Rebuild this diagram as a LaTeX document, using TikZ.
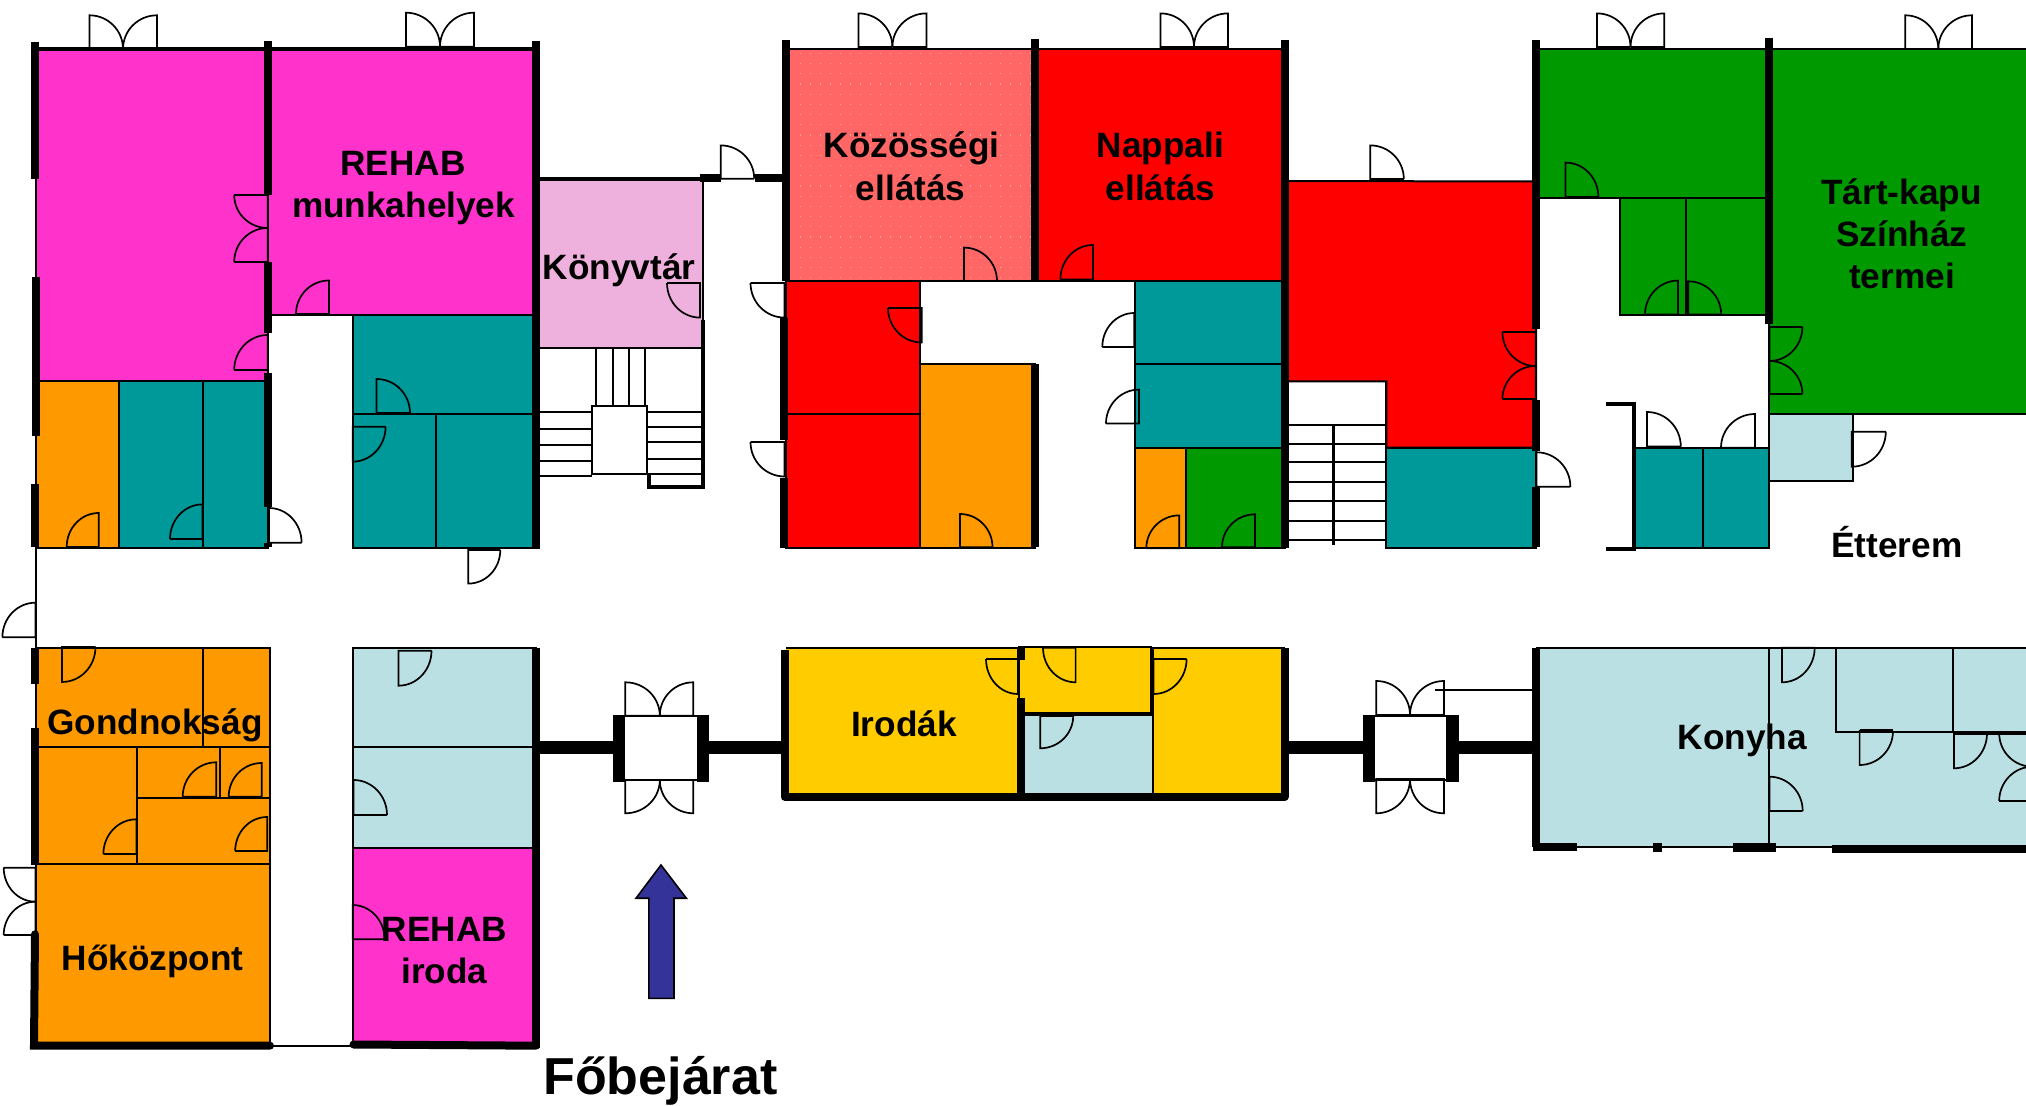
\documentclass[tikz,border=0pt]{standalone}
\usepackage{fontspec}
\setmainfont{Liberation Sans}
\definecolor{cmag}{HTML}{FF33CC}
\definecolor{cteal}{HTML}{009999}
\definecolor{corange}{HTML}{FF9900}
\definecolor{cred}{HTML}{FF0000}
\definecolor{cgreen}{HTML}{009900}
\definecolor{cblue}{HTML}{BBE0E3}
\definecolor{cyellow}{HTML}{FFCC00}
\definecolor{cpink}{HTML}{EEB0DC}
\definecolor{csalmon}{HTML}{FF6666}
\definecolor{cdot}{HTML}{FFA4A4}
\definecolor{carrow}{HTML}{333399}
\tikzset{
  roomline/.style={draw=black,line width=1pt},
  thinline/.style={draw=black,line width=1pt},
  doorline/.style={draw=black,line width=.85pt,line join=miter},
  wallline/.style={draw=black,line width=4pt},
  heavyline/.style={draw=black,line width=6.5pt},
  label/.style={font=\bfseries\fontsize{17.6pt}{20pt}\selectfont,anchor=base,inner sep=0pt,outer sep=0pt},
}
\newcommand\roombox[5]{\fill[#1] (#2,#3) rectangle (#4,#5); \draw[roomline] (#2,#3) rectangle (#4,#5);}
\newcommand\vwall[3]{\draw[wallline] (#1,#2) -- (#1,#3);}
\newcommand\hwall[3]{\draw[wallline] (#2,#1) -- (#3,#1);}
\newcommand\door[4]{\draw[doorline,shift={(#1,#2)}] (#3,0) -- (0,0) -- (0,#4) .. controls (0.5523*#3,#4) and (#3,0.5523*#4) .. (#3,0);}
\begin{document}
\begin{tikzpicture}[x=.5pt,y=-.5pt]
\useasboundingbox (0,0) rectangle (2026,1106);
\clip (0,0) rectangle (2026,1106);
% ---- rooms, north-west block
\roombox{cmag}{36}{49}{268}{381.5}
\roombox{cmag}{268}{49}{536}{315}
\roombox{corange}{36}{381.5}{119}{548}
\roombox{cteal}{119}{381.5}{203}{548}
\roombox{cteal}{203}{381.5}{268}{548}
\roombox{cteal}{352.6}{315}{536}{414.5}
\roombox{cteal}{352.6}{414.5}{436}{548}
\roombox{cteal}{436}{414.5}{536}{548}
\roombox{cpink}{536}{180}{702.5}{348}
% stairs by the library
\draw[thinline] (596,348) -- (596,406) (613,348) -- (613,406) (629,348) -- (629,406) (645,348) -- (645,406);
\draw[thinline] (592,406) rectangle (647,474.5);
\draw[thinline] (536,412.5) -- (592,412.5) (536,428.6) -- (592,428.6) (536,445) -- (592,445) (536,461) -- (592,461) (536,476) -- (592,476);
\draw[thinline] (647,412.5) -- (703,412.5) (647,427.5) -- (703,427.5) (647,442) -- (703,442) (647,459) -- (703,459) (647,474.5) -- (703,474.5);
\draw[draw=black,line width=1.6pt] (703,320) -- (703,487) -- (649,487) -- (649,475);
% ---- north-middle block
\roombox{csalmon}{786}{49}{1035}{281}
\foreach \i in {0,...,23}{\foreach \j in {0,...,22}{\fill[cdot] (800.2+10*\i,52.8+10.2*\j) rectangle +(1.2,1.2);}}
\roombox{cred}{1035}{49}{1284.5}{281}
\roombox{cred}{786}{281}{919.5}{414.5}
\roombox{cred}{786}{414.5}{919.5}{548}
\roombox{corange}{919.5}{364.5}{1035}{548}
\roombox{cteal}{1135}{281}{1284.5}{364.3}
\roombox{cteal}{1135}{364.3}{1284.5}{447.7}
\roombox{corange}{1135}{447.7}{1185.8}{548}
\roombox{cgreen}{1185.8}{447.7}{1284.5}{548}
\fill[cred] (1284.5,181) -- (1536,181.5) -- (1536,447.7) -- (1386.4,447.7) -- (1386.4,381.5) -- (1284.5,381.5) -- cycle;
\draw[roomline] (1284.5,181) -- (1536,181.5) -- (1536,447.7) -- (1386.4,447.7) -- (1386.4,381.5) -- (1284.5,381.5) -- cycle;
\foreach \yy in {424.8,444,462,482,501,521,540.4}{\draw[thinline] (1284.5,\yy) -- (1386.4,\yy);}
\draw[draw=black,line width=1.5pt] (1333.6,424.8) -- (1333.6,545);
\draw[thinline] (1386.4,381.5) -- (1386.4,548);
\roombox{cteal}{1386.4}{447.7}{1536}{548.4}
% ---- north-east block
\roombox{cgreen}{1536}{48.6}{1769.4}{198.2}
\roombox{cgreen}{1619.8}{198.2}{1686}{315}
\roombox{cgreen}{1686}{198.2}{1769.4}{315}
\fill[cgreen] (1769.4,48.6) rectangle (2030,414.5);
\draw[roomline] (2030,48.6) -- (1769.4,48.6) -- (1769.4,414.5) -- (2030,414.5);
\roombox{cblue}{1769.4}{414.5}{1853}{481.4}
\roombox{cteal}{1634.6}{447.7}{1702.6}{548.4}
\roombox{cteal}{1702.6}{447.7}{1769.4}{548.4}
\draw[draw=black,line width=2pt] (1605.8,404.5) -- (1633.8,404.5) -- (1633.8,549) -- (1605.8,549);
\draw[draw=black,line width=1.5pt] (1687,281) -- (1687,315);
% ---- south-west block
\roombox{corange}{36}{647.7}{203}{747}
\roombox{corange}{203}{647.7}{270}{747}
\roombox{corange}{36}{747}{136.8}{864.3}
\roombox{corange}{136.8}{747}{219.5}{797.7}
\roombox{corange}{219.5}{747}{270}{797.7}
\roombox{corange}{136.8}{797.7}{270}{864.3}
\roombox{corange}{36}{864.3}{270}{1045.7}
\roombox{cblue}{352.6}{647.7}{536}{747}
\roombox{cblue}{352.6}{747}{536}{847.7}
\roombox{cmag}{352.6}{847.7}{536}{1045}
\draw[draw=black,line width=1.2pt] (270,1045.7) -- (353,1045.7);
% ---- offices
\fill[cyellow] (786,647.7) rectangle (1284.5,796);
\draw[roomline] (786,647.7) -- (1284.5,647.7);
\fill[cblue] (1020.5,714) rectangle (1152.7,796);
\draw[thinline] (1152.7,647.7) -- (1152.7,796);
\roombox{cyellow}{1019}{646.7}{1151}{713.3}
\draw[draw=black,line width=1.8pt] (1020,714) -- (1153,714);
\vwall{1020.5}{647}{660}
\vwall{1020.5}{698}{797}
% ---- kitchen
\fill[cblue] (1536,647.7) rectangle (2030,847.3);
\draw[roomline] (2030,647.7) -- (1536,647.7);
\draw[thinline] (1536,847.3) -- (2030,847.3);
\draw[thinline] (1769.4,647.7) -- (1769.4,847);
\draw[thinline] (1835.7,647.7) -- (1835.7,732) -- (2030,732);
\draw[thinline] (1952.7,647.7) -- (1952.7,732);
\draw[draw=black,line width=1.8pt] (1952.7,733) -- (2030,733);
\draw[draw=black,line width=1.8pt] (1859.6,730.5) -- (1893,730.5);
\draw[thinline] (1434.8,690) -- (1533,690);
% ---- walls
\draw[draw=black,line width=2.2pt] (36,49) -- (536,49);
\draw[draw=black,line width=1pt] (36,179) -- (36,647.7);
\vwall{35.4}{42}{179}
\vwall{36.4}{277}{436}
\vwall{34.5}{484}{547}
\vwall{267.7}{41}{195}
\vwall{267.7}{262}{333}
\vwall{267.7}{373}{507}
\vwall{267.7}{543}{547}
\vwall{536}{41}{549}
\draw[draw=black,line width=1.7pt] (536,179) -- (704,179);
\draw[draw=black,line width=1pt] (702.5,180) -- (702.5,320);
\draw[wallline] (700,178) -- (720.7,178);
\draw[wallline] (755,178) -- (786,178);
\vwall{785.9}{40}{281}
\vwall{784}{317.6}{440}
\vwall{784}{477.6}{548.4}
\vwall{1035}{39}{282}
\vwall{1035}{364.3}{547}
\vwall{1284.5}{40}{548.4}
\vwall{1535.7}{40}{329}
\vwall{1535.7}{400}{451}
\vwall{1535.7}{486.8}{547.3}
\vwall{1769.4}{38.3}{324.5}
\draw[draw=black,line width=1pt] (36,548) -- (268,548);
% south-west walls
\vwall{35.4}{647.7}{684.3}
\vwall{35.4}{728.3}{865}
\draw[draw=black,line width=1pt] (36,684) -- (36,728);
\draw[wallline,line cap=round] (35,934.3) -- (34,1045.7) -- (270,1045.7);
\vwall{535.8}{647.7}{1048}
\draw[wallline,line cap=round] (353.5,1044.5) -- (536,1045.7);
% central connectors and porches
\draw[heavyline] (536,747.7) -- (613,747.7);
\draw[heavyline] (709,747.7) -- (785,747.7);
\draw[heavyline] (1284.5,747.7) -- (1363,747.7);
\draw[heavyline] (1459,747.7) -- (1536,747.7);
\fill[black] (613,715) rectangle (625.3,781.7);
\fill[black] (697,715) rectangle (709.4,781.7);
\fill[black] (1363,715) rectangle (1375,781.7);
\fill[black] (1446,715) rectangle (1459,781.7);
\draw[thinline] (625.3,715.7) -- (697,715.7) (625.3,780) -- (697,780);
\draw[thinline] (1375,715.7) -- (1446,715.7) (1375,780) -- (1446,780);
% offices outer wall
\draw[wallline,line join=round] (784.5,650) -- (784.5,796.7) -- (1284.5,796.7) -- (1284.5,647.7);
% kitchen walls
\vwall{1536}{647.7}{847}
\fill[black] (1532.5,843.3) rectangle (1576.5,851.5);
\fill[black] (1653,843.3) rectangle (1662,851.7);
\fill[black] (1733,843.3) rectangle (1776.4,851.7);
\fill[black] (1832.4,845) rectangle (2030,853.3);
% ---- doors: double doors on the north front
\door{89.5}{49}{33.5}{-33.7}\door{157}{49}{-34}{-33.7}
\door{406}{46.7}{34}{-34}\door{474}{46.7}{-34}{-34}
\door{858.4}{47}{34}{-33.6}\door{926.4}{47}{-34}{-33.6}
\door{1160.5}{47}{33.5}{-33.6}\door{1228}{47}{-34}{-33.6}
\door{1597}{47}{33.5}{-33.6}\door{1664.3}{47}{-33.8}{-33.6}
\door{1905.3}{49}{33}{-33.7}\door{1972}{49}{-33.7}{-33.7}
% single doors, north-west
\door{267.7}{195}{-33.5}{33}\door{267.7}{262}{-33.5}{-34}
\door{267.7}{370}{-33.5}{-35}
\door{329}{314}{-33}{-33.5}
\door{98.7}{547}{-32}{-34}
\door{202.5}{539}{-32.5}{-34.6}
\door{269}{542.7}{32.6}{-34.7}
\door{376.5}{413}{33.5}{-34}
\door{352.6}{426.7}{33}{35}
\door{468.3}{550}{32}{33.6}
\door{700}{283}{-33}{34.6}
\door{720.7}{178.7}{33.5}{-33.3}
% north-middle
\door{784.5}{283}{-34}{34.6}
\door{784.5}{442}{-34}{34.5}
\door{964}{281}{33}{-33.4}
\door{1093}{279.4}{-32.6}{-34.4}
\door{921.8}{308}{-33.8}{34.5}
\door{960}{547.3}{32.5}{-33.3}
\door{1134.3}{347}{-32}{-34}
\door{1139}{423.6}{-33}{-34}
\door{1179.3}{548.4}{-33}{-33}
\door{1255}{547.3}{-33}{-33}
\door{1370.3}{179}{33.5}{-33.6}
% north-east
\door{1565.4}{197}{33}{-34.4}
\door{1678}{314.6}{-33}{-34}
\door{1688.2}{314.6}{33}{-33.3}
\door{1535.7}{332}{-33.3}{34}\door{1535.7}{399}{-33.3}{-33}
\door{1769.4}{327}{33}{34}\door{1769.4}{394}{33}{-33}
\door{1647}{446.6}{33.8}{-34.6}
\door{1755}{447.7}{-34}{-33.7}
\door{1851.8}{431.7}{34}{35}
\door{1536.6}{486.8}{33.8}{-34.5}
% south-west
\door{35.4}{637.3}{-33}{-34.6}
\door{62}{647}{33.5}{35}
\door{216.3}{796.7}{-33.6}{-34.4}
\door{261.7}{796.7}{-33}{-33.7}
\door{136.4}{854}{-33}{-34.7}
\door{267.2}{851}{-32}{-34}
\door{35.4}{867.7}{-31.7}{34}\door{35.4}{935}{-31.7}{-33.3}
\door{398.5}{650.7}{33}{35}
\door{353.5}{815}{33.5}{-35}
\door{352.6}{939.3}{32}{-34.3}
% porches
\door{625.3}{715.7}{34.5}{-33.4}\door{693.3}{715.7}{-33.5}{-33.4}
\door{625.3}{780}{34.5}{33.3}\door{693.3}{780}{-33.5}{33.3}
\door{1376.3}{715}{33.7}{-34}\door{1443.9}{715}{-33.9}{-34}
\door{1376.3}{779}{33.7}{34.3}\door{1443.9}{779}{-33.9}{34.3}
% offices
\door{1018}{659}{-32}{35}
\door{1075.6}{647.7}{-32.6}{34.6}
\door{1153.6}{659}{33}{35}
\door{1040.2}{716}{33}{32.3}
% kitchen
\door{1782}{647.7}{32.7}{34.6}
\door{1859.6}{731}{33.4}{34}
\door{1954}{733.3}{33}{35}
\door{2032.5}{733.3}{-33.3}{33.4}
\door{2032.5}{801}{-33.3}{-34.3}
\door{1769.4}{811}{33.3}{-34.3}
% entrance arrow
\draw[fill=carrow,draw=black,line width=.8pt,line join=miter] (661,865) -- (686.4,898.3) -- (674,898.3) -- (674,998.3) -- (648.8,998.3) -- (648.8,898.3) -- (636,898.3) -- cycle;
% ---- labels
\node[label] (t1a) at (403,175.5) {REHAB};
\node[label] (t1b) at (403.6,217.5) {munkahelyek};
\node[label] (t2) at (619,279.5) {Könyvtár};
\node[label] (t3a) at (911.7,157.5) {Közösségi};
\node[label] (t3b) at (910.7,200.5) {ellátás};
\node[label] (t4a) at (1160.5,157.5) {Nappali};
\node[label] (t4b) at (1160.5,200.5) {ellátás};
\node[label] (t5a) at (1901.6,204.3) {Tárt-kapu};
\node[label] (t5b) at (1902,246.5) {Színház};
\node[label] (t5c) at (1902,288.5) {termei};
\node[label] (t6) at (1897,558) {Étterem};
\node[label] (t7) at (155,734.8) {Gondnokság};
\node[label] (t8) at (152.5,970.8) {Hőközpont};
\node[label] (t9a) at (444.4,941.5) {REHAB};
\node[label] (t9b) at (444.4,983.5) {iroda};
\node[label] (t10) at (904,736.5) {Irodák};
\node[label] (t11) at (1742.5,749.5) {Konyha};
\node[label,font=\bfseries\fontsize{26pt}{28pt}\selectfont] (t12) at (660.4,1094) {Főbejárat};
\end{tikzpicture}
\end{document}
